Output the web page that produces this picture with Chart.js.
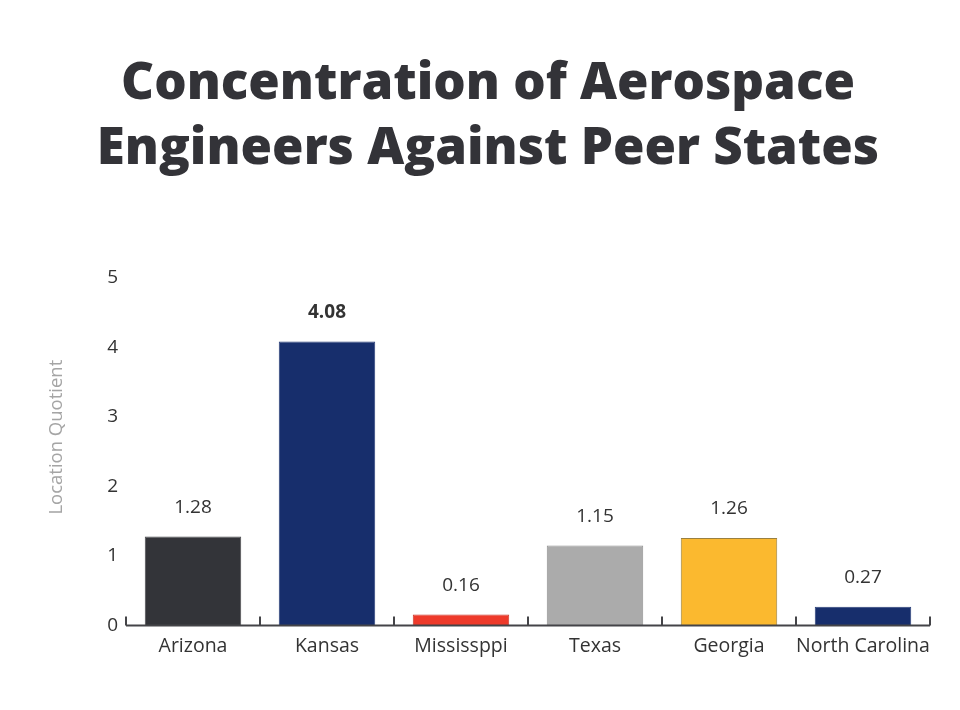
<!DOCTYPE html>
<html>
<head>
<meta charset="utf-8">
<script src="https://cdn.jsdelivr.net/npm/chart.js@4.4.1/dist/chart.umd.min.js"></script>
<style>
html,body{margin:0;padding:0;background:#fff;}
#wrap{width:960px;height:710px;position:relative;}
</style>
</head>
<body>
<div id="wrap"><canvas id="c" width="960" height="710"></canvas></div>
<script>
const categories = ["Arizona", "Kansas", "Mississppi", "Texas", "Georgia", "North Carolina"];
const values = [1.28, 4.08, 0.16, 1.15, 1.26, 0.27];
const valueLabels = ["1.28", "4.08", "0.16", "1.15", "1.26", "0.27"];
const boldLabel = [false, true, false, false, false, false];
const barColors = ["#333439", "#172e6c", "#ee3a2a", "#ababab", "#fbb92f", "#172e6c"];
const barBorders = ["#4a4a4e", "#2a3f78", "#c9372a", "#8f8f8f", "#9a8040", "#2a3f78"];
const yTicks = [0, 1, 2, 3, 4, 5];
const titleLines = ["Concentration of Aerospace", "Engineers Against Peer States"];
const yTitle = "Location Quotient";

const labelFont = "'Open Sans', 'DejaVu Sans', sans-serif";

const valueLabelPlugin = {
  id: 'valueLabels',
  afterDatasetsDraw(chart) {
    const ctx = chart.ctx;
    const meta = chart.getDatasetMeta(0);
    ctx.save();
    ctx.textAlign = 'center';
    ctx.textBaseline = 'middle';
    meta.data.forEach((bar, i) => {
      ctx.font = (boldLabel[i] ? '700 ' : '400 ') + '19px ' + labelFont;
      ctx.fillStyle = '#333333';
      ctx.fillText(valueLabels[i], bar.x, bar.y - 29);
    });
    ctx.restore();
  }
};

const axisTicksPlugin = {
  id: 'axisTicks',
  afterDraw(chart) {
    const ctx = chart.ctx;
    const xs = chart.scales.x;
    const bottom = chart.chartArea.bottom;
    ctx.save();
    ctx.strokeStyle = '#444448';
    ctx.lineWidth = 2;
    ctx.beginPath();
    ctx.moveTo(chart.chartArea.left, bottom);
    ctx.lineTo(chart.chartArea.right, bottom);
    for (let i = 0; i <= categories.length; i++) {
      const x = Math.round(xs.getPixelForValue(i - 0.5));
      ctx.moveTo(x, bottom);
      ctx.lineTo(x, bottom - 9);
    }
    ctx.stroke();
    ctx.restore();
  }
};

new Chart(document.getElementById('c'), {
  type: 'bar',
  data: {
    labels: categories,
    datasets: [{
      data: values,
      backgroundColor: barColors,
      borderColor: barBorders,
      borderWidth: 1,
      categoryPercentage: 0.72,
      barPercentage: 1.0
    }]
  },
  options: {
    responsive: false,
    animation: false,
    layout: { padding: { left: 46, right: 30, top: 52, bottom: 43 } },
    plugins: {
      legend: { display: false },
      tooltip: { enabled: false },
      title: {
        display: true,
        text: titleLines,
        color: '#333338',
        font: { family: "'Open Sans', sans-serif", size: 51, weight: '800', lineHeight: 1.27 },
        padding: { top: 0, bottom: 96 }
      }
    },
    scales: {
      x: {
        grid: { display: false, drawTicks: false },
        border: { display: false },
        ticks: { color: '#333333', font: { family: labelFont, size: 19.5 }, padding: 9, maxRotation: 0, minRotation: 0, autoSkip: false }
      },
      y: {
        min: 0, max: 5,
        afterBuildTicks(scale) { scale.ticks = yTicks.map(v => ({ value: v })); },
        afterFit(scale) { scale.width = 80; },
        grid: { display: false, drawTicks: false },
        border: { display: false },
        ticks: { color: '#333333', font: { family: labelFont, size: 19 }, padding: 8 },
        title: {
          display: true,
          text: "      " + yTitle,
          color: '#a5a5a5',
          font: { family: labelFont, size: 18.5 },
          padding: { top: 0, bottom: 20 }
        }
      }
    }
  },
  plugins: [valueLabelPlugin, axisTicksPlugin]
});
</script>
</body>
</html>
